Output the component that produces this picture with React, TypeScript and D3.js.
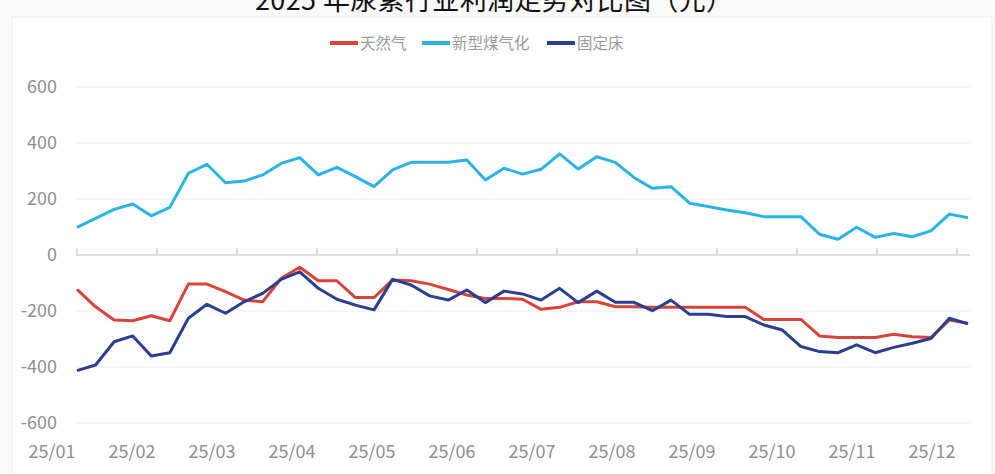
import * as d3 from "d3";

const title = "2025 年尿素行业利润走势对比图（元）";
const monthLabels = ["25/01", "25/02", "25/03", "25/04", "25/05", "25/06", "25/07", "25/08", "25/09", "25/10", "25/11", "25/12"];
const yTicks = [600, 400, 200, 0, -200, -400, -600];

// weekly profit values, 49 weeks
const naturalGas = [
  -123, -185, -232, -235, -217, -235, -104, -104, -131, -161,
  -167, -83, -44, -92, -92, -152, -152, -89, -92, -104,
  -123, -143, -155, -155, -158, -194, -187, -167, -167, -185,
  -185, -187, -187, -187, -187, -187, -187, -230, -230, -230,
  -289, -295, -295, -295, -283, -292, -295, -232, -244,
];
const newCoalGas = [
  99, 131, 163, 182, 140, 170, 292, 324, 258, 264,
  286, 327, 348, 286, 313, 280, 244, 304, 331, 331,
  331, 339, 268, 310, 289, 306, 361, 307, 351, 331,
  277, 238, 244, 185, 173, 161, 151, 137, 137, 137,
  74, 56, 99, 63, 77, 65, 86, 146, 133,
];
const fixedBed = [
  -413, -393, -310, -289, -361, -349, -226, -176, -208, -167,
  -137, -87, -60, -119, -158, -179, -196, -87, -107, -146,
  -161, -125, -170, -129, -139, -161, -119, -170, -129, -169,
  -169, -199, -161, -212, -212, -220, -220, -250, -268, -327,
  -345, -349, -321, -349, -330, -315, -298, -226, -246,
];

const seriesNames = ["天然气", "新型煤气化", "固定床"];
const seriesColors = ["#d8443a", "#2bb3e6", "#2a3f8f"];
const seriesData = [naturalGas, newCoalGas, fixedBed];

const W = 995;
const H = 474;
const font = "'Noto Sans CJK SC', 'Noto Sans', sans-serif";

export default function App() {
  const x = d3.scaleLinear().domain([0, newCoalGas.length - 1]).range([77, 968]);
  const y = d3.scaleLinear().domain([-600, 600]).range([423, 87]);
  const xm = d3.scaleLinear().domain([0, monthLabels.length - 1]).range([77, 957]);
  const line = d3.line<number>().x((_, i) => x(i)).y((d) => y(d));

  const legendX = [330, 422, 547];

  return (
    <svg width={W} height={H} style={{ position: "absolute", left: 0, top: 0, background: "#fafafa" }}>
      <rect x={12} y={17} width={980} height={460} fill="#fff" stroke="#eeeeee" />
      <text x={494} y={10} textAnchor="middle" fontFamily={font} fontSize={27} fill="#111" textLength={478} lengthAdjust="spacing">
        {title}
      </text>

      {/* legend */}
      {seriesNames.map((name, i) => (
        <g key={name}>
          <line x1={legendX[i]} x2={legendX[i] + 28} y1={43} y2={43} stroke={seriesColors[i]} strokeWidth={4} />
          <text x={legendX[i] + 30} y={48.5} fontFamily={font} fontSize={15.5} fill="#9a9a9a">{name}</text>
        </g>
      ))}

      {/* grid */}
      {yTicks.map((t) => (
        <g key={t}>
          <line x1={76} x2={970} y1={y(t)} y2={y(t)} stroke={t === 0 ? "#d4d4d4" : "#ececec"} strokeWidth={t === 0 ? 1.5 : 1} />
          <text x={57} y={y(t) + 6} textAnchor="end" fontFamily={font} fontSize={18} fill="#8f8f8f">{t}</text>
        </g>
      ))}

      {/* month ticks and labels */}
      {monthLabels.map((m, i) => (
        <g key={m}>
          <line x1={xm(i)} x2={xm(i)} y1={y(0) - 7} y2={y(0)} stroke="#d4d4d4" strokeWidth={1.5} />
          <text x={xm(i) - 25} y={458} textAnchor="middle" fontFamily={font} fontSize={18} fill="#8f8f8f">{m}</text>
        </g>
      ))}

      {seriesData.map((s, i) => (
        <path key={seriesNames[i]} d={line(s) ?? ""} fill="none" stroke={seriesColors[i]} strokeWidth={3} strokeLinejoin="round" />
      ))}
    </svg>
  );
}
